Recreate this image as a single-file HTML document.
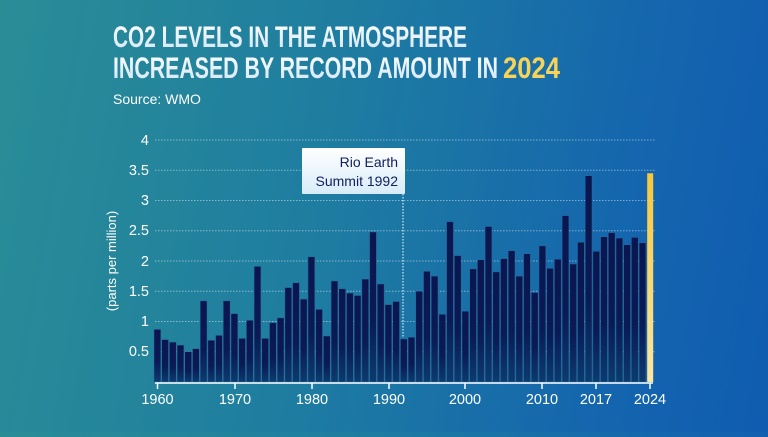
<!DOCTYPE html>
<html><head><meta charset="utf-8"><style>
html,body{margin:0;padding:0}
body{width:768px;height:432px;overflow:hidden;background:linear-gradient(100deg,#2a8d96 0%,#1f7ea0 40%,#1465ae 80%,#0f5cb0 100%);font-family:"Liberation Sans",sans-serif}
</style></head><body>
<svg width="768" height="432" viewBox="0 0 768 432" xmlns="http://www.w3.org/2000/svg">
<defs>
<linearGradient id="bar" x1="0" y1="0" x2="0" y2="1"><stop offset="0" stop-color="#0a1650"/><stop offset="0.6" stop-color="#0a1a55"/><stop offset="1" stop-color="#0c3b6e"/></linearGradient>
<linearGradient id="yel" x1="0" y1="0" x2="0" y2="1"><stop offset="0" stop-color="#f8c83a"/><stop offset="1" stop-color="#fbe6a3"/></linearGradient>
<linearGradient id="box" x1="0" y1="0" x2="0" y2="1"><stop offset="0" stop-color="#ffffff"/><stop offset="1" stop-color="#d8ecf8"/></linearGradient>
<linearGradient id="tt" x1="0" y1="0" x2="0" y2="1"><stop offset="0" stop-color="#ffffff"/><stop offset="1" stop-color="#cfe4f5"/></linearGradient>
</defs>
<text x="113" y="47" font-size="30" font-weight="bold" fill="url(#tt)" textLength="354" lengthAdjust="spacingAndGlyphs">CO2 LEVELS IN THE ATMOSPHERE</text>
<text x="113" y="78" font-size="30" font-weight="bold" fill="url(#tt)" textLength="385" lengthAdjust="spacingAndGlyphs">INCREASED BY RECORD AMOUNT IN</text>
<text x="503" y="78" font-size="30" font-weight="bold" fill="#f8d35a" textLength="57" lengthAdjust="spacingAndGlyphs">2024</text>
<text x="113" y="104" font-size="14" fill="#fff">Source: WMO</text>
<g stroke="#ffffff" stroke-opacity="0.45" stroke-dasharray="1.5,1.5" stroke-width="1">
<line x1="155" y1="140" x2="655" y2="140"/><line x1="155" y1="170.2" x2="655" y2="170.2"/><line x1="155" y1="200.5" x2="655" y2="200.5"/><line x1="155" y1="230.7" x2="655" y2="230.7"/><line x1="155" y1="261" x2="655" y2="261"/><line x1="155" y1="291.2" x2="655" y2="291.2"/><line x1="155" y1="321.5" x2="655" y2="321.5"/><line x1="155" y1="351.7" x2="655" y2="351.7"/>
</g>
<g fill="#fff" font-size="14.5" text-anchor="end">
<text x="149" y="145">4</text><text x="149" y="175">3.5</text><text x="149" y="205">3</text><text x="149" y="235">2.5</text><text x="149" y="266">2</text><text x="149" y="296">1.5</text><text x="149" y="326">1</text><text x="149" y="356">0.5</text>
</g>
<text transform="translate(116,261) rotate(-90)" fill="#fff" font-size="13" text-anchor="middle">(parts per million)</text>
<g fill="url(#bar)" stroke="#2a6a9a" stroke-width="0.5">
<rect x="154.0" y="329.4" width="6.8" height="52.6"/>
<rect x="161.7" y="339.6" width="6.8" height="42.4"/>
<rect x="169.4" y="342.1" width="6.8" height="39.9"/>
<rect x="177.1" y="345.1" width="6.8" height="36.9"/>
<rect x="184.8" y="351.7" width="6.8" height="30.3"/>
<rect x="192.5" y="348.7" width="6.8" height="33.3"/>
<rect x="200.2" y="300.9" width="6.8" height="81.1"/>
<rect x="207.9" y="340.3" width="6.8" height="41.7"/>
<rect x="215.6" y="335.4" width="6.8" height="46.6"/>
<rect x="223.3" y="300.9" width="6.8" height="81.1"/>
<rect x="231.0" y="313.6" width="6.8" height="68.4"/>
<rect x="238.7" y="338.4" width="6.8" height="43.6"/>
<rect x="246.4" y="320.3" width="6.8" height="61.7"/>
<rect x="254.1" y="266.4" width="6.8" height="115.6"/>
<rect x="261.8" y="338.4" width="6.8" height="43.6"/>
<rect x="269.5" y="322.7" width="6.8" height="59.3"/>
<rect x="277.2" y="317.9" width="6.8" height="64.1"/>
<rect x="284.9" y="287.6" width="6.8" height="94.4"/>
<rect x="292.6" y="282.8" width="6.8" height="99.2"/>
<rect x="300.3" y="299.1" width="6.8" height="82.9"/>
<rect x="308.0" y="256.8" width="6.8" height="125.2"/>
<rect x="315.7" y="309.4" width="6.8" height="72.6"/>
<rect x="323.4" y="336.0" width="6.8" height="46.0"/>
<rect x="331.1" y="281.0" width="6.8" height="101.0"/>
<rect x="338.8" y="288.8" width="6.8" height="93.2"/>
<rect x="346.5" y="293.1" width="6.8" height="88.9"/>
<rect x="354.2" y="295.5" width="6.8" height="86.5"/>
<rect x="361.9" y="279.1" width="6.8" height="102.9"/>
<rect x="369.6" y="232.0" width="6.8" height="150.0"/>
<rect x="377.3" y="284.0" width="6.8" height="98.0"/>
<rect x="385.0" y="304.6" width="6.8" height="77.4"/>
<rect x="392.7" y="301.5" width="6.8" height="80.5"/>
<rect x="400.4" y="339.0" width="6.8" height="43.0"/>
<rect x="408.1" y="337.2" width="6.8" height="44.8"/>
<rect x="415.8" y="291.2" width="6.8" height="90.8"/>
<rect x="423.5" y="271.3" width="6.8" height="110.7"/>
<rect x="431.2" y="276.1" width="6.8" height="105.9"/>
<rect x="438.9" y="314.2" width="6.8" height="67.8"/>
<rect x="446.6" y="221.7" width="6.8" height="160.3"/>
<rect x="454.3" y="255.6" width="6.8" height="126.4"/>
<rect x="462.0" y="311.2" width="6.8" height="70.8"/>
<rect x="469.7" y="268.9" width="6.8" height="113.1"/>
<rect x="477.4" y="259.8" width="6.8" height="122.2"/>
<rect x="485.1" y="226.5" width="6.8" height="155.5"/>
<rect x="492.8" y="271.9" width="6.8" height="110.1"/>
<rect x="500.5" y="258.6" width="6.8" height="123.4"/>
<rect x="508.2" y="250.7" width="6.8" height="131.3"/>
<rect x="515.9" y="276.1" width="6.8" height="105.9"/>
<rect x="523.6" y="253.7" width="6.8" height="128.3"/>
<rect x="531.3" y="292.5" width="6.8" height="89.5"/>
<rect x="539.0" y="245.9" width="6.8" height="136.1"/>
<rect x="546.7" y="268.3" width="6.8" height="113.7"/>
<rect x="554.4" y="259.2" width="6.8" height="122.8"/>
<rect x="562.1" y="215.6" width="6.8" height="166.4"/>
<rect x="569.8" y="264.0" width="6.8" height="118.0"/>
<rect x="577.5" y="242.2" width="6.8" height="139.8"/>
<rect x="585.2" y="175.7" width="6.8" height="206.3"/>
<rect x="592.9" y="251.3" width="6.8" height="130.7"/>
<rect x="600.6" y="236.8" width="6.8" height="145.2"/>
<rect x="608.3" y="232.6" width="6.8" height="149.4"/>
<rect x="616.0" y="238.0" width="6.8" height="144.0"/>
<rect x="623.7" y="244.7" width="6.8" height="137.3"/>
<rect x="631.4" y="237.4" width="6.8" height="144.6"/>
<rect x="639.1" y="242.8" width="6.8" height="139.2"/>
</g>
<rect x="647.2" y="173.3" width="6" height="208.7" fill="url(#yel)"/>
<line x1="403" y1="194" x2="403" y2="338" stroke="#fff" stroke-dasharray="1.5,1.5" stroke-width="1"/>
<rect x="302" y="148" width="103" height="46" fill="url(#box)" rx="1"/>
<text x="398" y="167" font-size="14" fill="#142060" text-anchor="end">Rio Earth</text>
<text x="398" y="186" font-size="14" fill="#142060" text-anchor="end">Summit 1992</text>
<line x1="155" y1="383" x2="653" y2="383" stroke="#fff" stroke-width="1.5"/>
<g stroke="#fff" stroke-width="1.5">
<line x1="157.5" y1="383" x2="157.5" y2="389"/><line x1="235" y1="383" x2="235" y2="389"/><line x1="312" y1="383" x2="312" y2="389"/><line x1="389" y1="383" x2="389" y2="389"/><line x1="465" y1="383" x2="465" y2="389"/><line x1="542" y1="383" x2="542" y2="389"/><line x1="596" y1="383" x2="596" y2="389"/><line x1="650" y1="383" x2="650" y2="389"/>
</g>
<g fill="#fff" font-size="14.5" text-anchor="middle">
<text x="157.5" y="404">1960</text><text x="235" y="404">1970</text><text x="312" y="404">1980</text><text x="389" y="404">1990</text><text x="465" y="404">2000</text><text x="542" y="404">2010</text><text x="596" y="404">2017</text><text x="650" y="404">2024</text>
</g>
</svg>
</body></html>
